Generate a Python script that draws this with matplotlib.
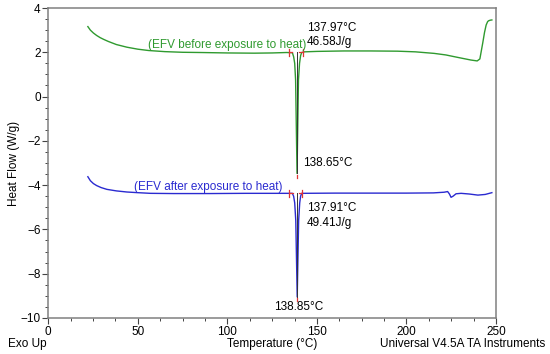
import matplotlib
matplotlib.use("Agg")
import matplotlib.pyplot as plt
from matplotlib.ticker import MultipleLocator

plt.rcParams['font.family'] = ['Liberation Sans', 'DejaVu Sans']
plt.rcParams['font.size'] = 8.5

# DSC trace before heat exposure (green)
before_T = [22.1, 23.5, 25.2, 27, 29, 31, 33.5, 38, 43.9, 50, 56, 65, 75, 85, 100, 115, 125, 133,
            136.3, 137.0, 137.6, 138.1, 138.9, 139.7, 140.3, 140.9, 141.5,
            143, 150, 165, 180, 195, 205, 215.5, 222, 228.6, 236, 239.5, 241, 242.6,
            243.6, 244.5, 245.3, 245.8, 246.8, 247.7]
before_HF = [3.16, 3.0, 2.87, 2.76, 2.66, 2.58, 2.49, 2.35, 2.23, 2.14, 2.08, 2.03, 2.0, 1.99, 1.97, 1.96, 1.97, 1.99,
             1.98, 1.8, 1.5, 0.75, -3.47, 0.75, 1.5, 1.85, 1.99,
             2.02, 2.04, 2.06, 2.06, 2.05, 2.02, 1.95, 1.88, 1.77, 1.65, 1.61, 1.7, 2.42,
             2.9, 3.23, 3.38, 3.42, 3.45, 3.46]

# DSC trace after heat exposure (blue)
after_T = [22.1, 23.5, 25.2, 27, 29.5, 32.7, 38, 43.9, 50, 57, 70, 90, 110, 130,
           136.3, 137.0, 137.6, 138.2, 139.0, 139.8, 140.4, 140.9, 141.5,
           160, 180, 200, 215, 221, 223, 224, 224.9, 226, 227.7, 230.5, 235, 239.9, 244, 247.7]
after_HF = [-3.62, -3.8, -3.93, -4.02, -4.11, -4.19, -4.26, -4.31, -4.34, -4.37, -4.38, -4.38, -4.37, -4.37,
            -4.37, -4.5, -4.8, -5.6, -9.05, -5.6, -4.8, -4.5, -4.37,
            -4.36, -4.36, -4.36, -4.35, -4.32, -4.29, -4.4, -4.55, -4.5, -4.39, -4.37, -4.4, -4.45, -4.42, -4.34]

# peak analysis: onset, enthalpy, peak temperature, integration limits
before_onset, before_dH, before_peak = 137.97, 46.58, 138.65
after_onset, after_dH, after_peak = 137.91, 49.41, 138.85
before_limits = [134.2, 142.0]
after_limits = [134.4, 141.9]
before_base, before_min = 2.0, -3.47
after_base, after_min = -4.37, -9.05

green = '#2f9a2f'
blue = '#2a2ad0'
red = '#e03535'

fig = plt.figure(figsize=(5.5, 3.54), dpi=100)
ax = fig.add_axes([0.0878, 0.1017, 0.814, 0.8757])

ax.plot(before_T, before_HF, color=green, lw=1.0)
ax.plot(after_T, after_HF, color=blue, lw=1.0)

# peak drop lines and integration markers
for base, low, peak_x, lims in [(before_base, before_min, 138.9, before_limits),
                                (after_base, after_min, 139.0, after_limits)]:
    ax.plot([peak_x, peak_x], [base, low], color='#333333', lw=0.7)
    ax.plot([peak_x, peak_x], [low - 0.05, low - 0.2], color=red, lw=0.9)
    for lx in lims:
        ax.plot([lx, lx], [base - 0.15, base + 0.15], color=red, lw=0.9)
    ax.plot([lims[0], lims[0] + 2], [base, base], color=red, lw=0.9)
    ax.plot([lims[1] - 2, lims[1]], [base, base], color=red, lw=0.9)

# annotations
ax.text(55.8, 2.33, '(EFV before exposure to heat)', color=green, va='center', ha='left')
ax.text(47.6, -4.07, '(EFV after exposure to heat)', color=blue, va='center', ha='left')
ax.text(144.3, 3.1, f'{before_onset:.2f}°C', va='center', ha='left')
ax.text(144.3, 2.46, f'{before_dH:.2f}J/g', va='center', ha='left')
ax.text(142.0, -3.0, f'{before_peak:.2f}°C', va='center', ha='left')
ax.text(144.3, -5.05, f'{after_onset:.2f}°C', va='center', ha='left')
ax.text(144.3, -5.7, f'{after_dH:.2f}J/g', va='center', ha='left')
ax.text(126.0, -9.49, f'{after_peak:.2f}°C', va='center', ha='left')

ax.set_xlim(0, 250)
ax.set_ylim(-10, 4)
ax.xaxis.set_major_locator(MultipleLocator(50))
ax.xaxis.set_minor_locator(MultipleLocator(12.5))
ax.yaxis.set_major_locator(MultipleLocator(2))
ax.yaxis.set_minor_locator(MultipleLocator(0.5))
ax.tick_params(which='major', length=4, width=0.8, pad=1.5, color='#444444')
ax.tick_params(which='minor', length=2.5, width=0.7, color='#444444')
for s in ax.spines.values():
    s.set_color('#808080')
    s.set_linewidth(1.1)

ax.set_ylabel('Heat Flow (W/g)', labelpad=0.5)
fig.text(272 / 550, 1 - 344 / 354, 'Temperature (°C)', ha='center', va='center')
fig.text(8 / 550, 1 - 344 / 354, 'Exo Up', ha='left', va='center')
fig.text(545 / 550, 1 - 344 / 354, 'Universal V4.5A TA Instruments', ha='right', va='center')

fig.savefig('out.png', dpi=100)
